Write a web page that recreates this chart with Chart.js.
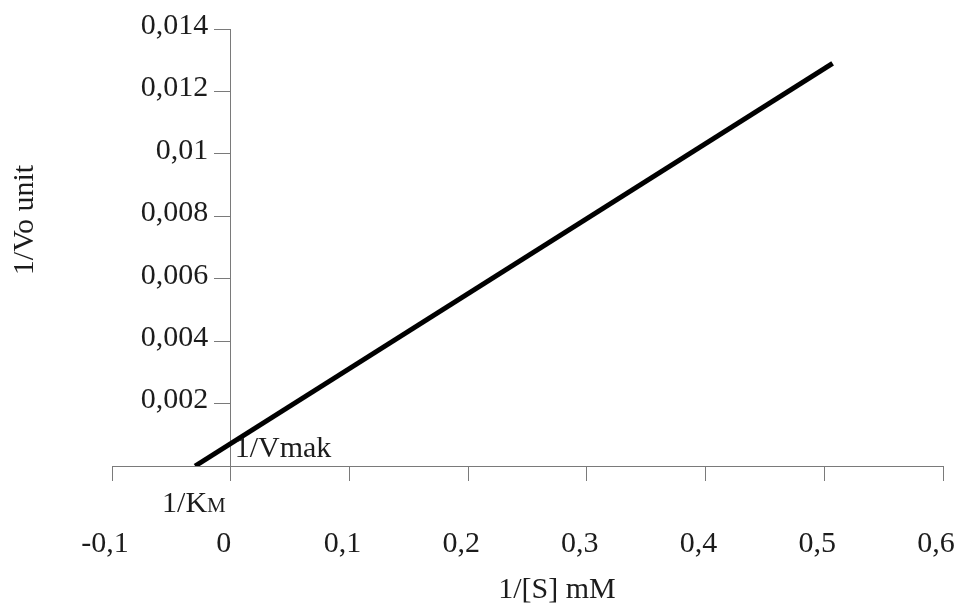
<!DOCTYPE html>
<html>
<head>
<meta charset="utf-8">
<script src="https://cdn.jsdelivr.net/npm/chart.js@4/dist/chart.umd.min.js"></script>
<style>
  html, body { margin: 0; padding: 0; background: #ffffff; }
  #wrap { width: 958px; height: 615px; }
</style>
</head>
<body>
<div id="wrap"><canvas id="lb" width="958" height="615"></canvas></div>
<script>
// Lineweaver-Burk plot: 1/Vo against 1/[S]
const substrateInv = [-0.03, 0.507];      // 1/[S] (mM^-1)
const velocityInv  = [0, 0.0129];         // 1/Vo
const xTickValues  = [-0.1, 0, 0.1, 0.2, 0.3, 0.4, 0.5, 0.6];
const yTickValues  = [0.002, 0.004, 0.006, 0.008, 0.01, 0.012, 0.014];
const xTitle = '1/[S] mM';
const yTitle = '1/Vo unit';
const vmaxLabel = '1/Vmak';
const kmLabel = ['1/K', 'M'];

const FONT = '"Liberation Serif", "Times New Roman", serif';
const INK = '#1c1c1c';
const AXIS = '#7a7a7a';
const GAP = '\u00a0\u00a0\u00a0'; // keeps y labels clear of their tick marks

// decimal comma, as used in the labels
function fmt(v) {
  const r = Math.round(v * 100000) / 100000;
  return String(r).replace('.', ',');
}

const points = substrateInv.map((x, i) => ({ x, y: velocityInv[i] }));

const annotate = {
  id: 'annotate',
  afterDraw(chart) {
    const { ctx, scales: { x, y } } = chart;
    const x0 = x.getPixelForValue(0);
    const y0 = y.getPixelForValue(0);
    ctx.save();
    ctx.fillStyle = INK;
    ctx.textBaseline = 'alphabetic';

    // intercept labels
    ctx.font = '30px ' + FONT;
    ctx.textAlign = 'left';
    ctx.fillText(vmaxLabel, x0 + 4, y0 - 9);

    ctx.font = '21px ' + FONT;
    const wM = ctx.measureText(kmLabel[1]).width;
    ctx.textAlign = 'right';
    ctx.fillText(kmLabel[1], x0 - 5, y0 + 46);
    ctx.font = '30px ' + FONT;
    ctx.fillText(kmLabel[0], x0 - 5 - wM, y0 + 46);

    // axis titles
    ctx.font = '30px ' + FONT;
    ctx.textAlign = 'center';
    ctx.fillText(xTitle, 557, 598);

    ctx.translate(33, 220);
    ctx.rotate(-Math.PI / 2);
    ctx.fillText(yTitle, 0, 0);
    ctx.restore();
  }
};

new Chart(document.getElementById('lb'), {
  type: 'scatter',
  data: {
    datasets: [{
      data: points,
      showLine: true,
      borderColor: '#000000',
      borderWidth: 5,
      borderCapStyle: 'butt',
      pointRadius: 0,
      pointHoverRadius: 0,
      fill: false
    }]
  },
  options: {
    responsive: false,
    animation: false,
    devicePixelRatio: 1,
    layout: { padding: { left: 112, right: 15, top: 29, bottom: 149 } },
    plugins: { legend: { display: false }, tooltip: { enabled: false } },
    scales: {
      x: {
        type: 'linear',
        position: { y: 0 },
        min: -0.1,
        max: 0.6,
        afterBuildTicks: s => { s.ticks = xTickValues.map(v => ({ value: v })); },
        afterFit: s => { s.paddingLeft = 0; s.paddingRight = 0; },
        grid: { drawOnChartArea: false, drawTicks: true, tickLength: 14, color: AXIS, lineWidth: 1 },
        border: { display: true, color: AXIS, width: 1 },
        ticks: {
          font: { family: FONT, size: 30 },
          color: INK,
          padding: 46,
          maxRotation: 0,
          autoSkip: false,
          labelOffset: -7,
          callback: v => fmt(v)
        }
      },
      y: {
        type: 'linear',
        position: { x: 0 },
        min: 0,
        max: 0.014,
        afterBuildTicks: s => { s.ticks = yTickValues.map(v => ({ value: v })); },
        afterFit: s => { s.paddingTop = 0; s.paddingBottom = 0; },
        grid: { drawOnChartArea: false, drawTicks: true, tickLength: 16, color: AXIS, lineWidth: 1 },
        border: { display: true, color: AXIS, width: 1 },
        ticks: {
          font: { family: FONT, size: 30 },
          color: INK,
          autoSkip: false,
          labelOffset: -3,
          callback: v => fmt(v) + GAP
        }
      }
    }
  },
  plugins: [annotate]
});
</script>
</body>
</html>
